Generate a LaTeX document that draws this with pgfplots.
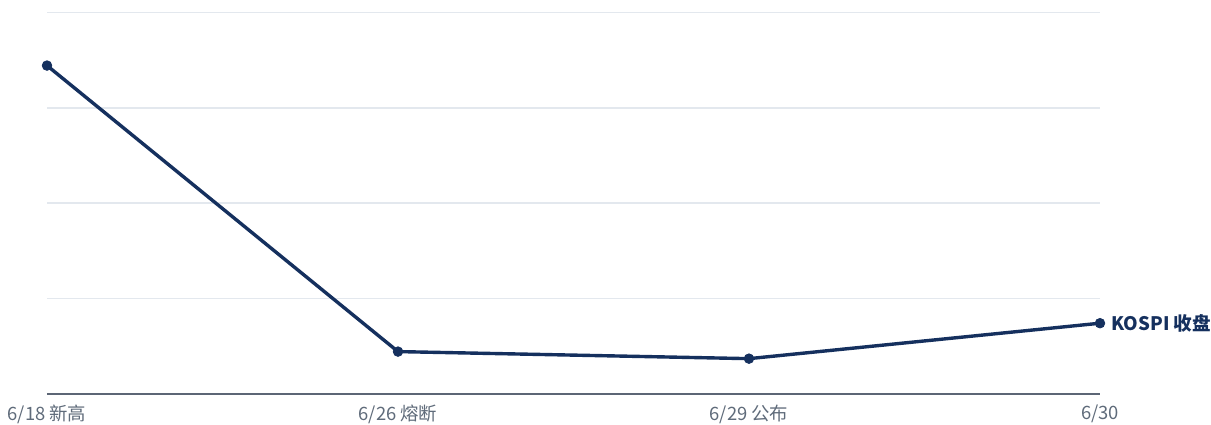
\documentclass[border=0pt]{standalone}
\usepackage{pgfplots}
\pgfplotsset{compat=1.18}
\usepackage{fontspec}
\setmainfont{Noto Sans CJK SC}
\definecolor{navy}{HTML}{15305E}
\definecolor{gridc}{HTML}{E3E8EE}
\definecolor{axisc}{HTML}{5C6675}
\definecolor{tickc}{HTML}{5F6B7A}
\begin{document}
\begin{tikzpicture}
\useasboundingbox (-23.5pt,-15.3pt) rectangle (582pt,196.8pt);
\begin{axis}[
  scale only axis, width=526.5pt, height=190.5pt,
  xmin=0, xmax=3, ymin=0, ymax=4,
  axis line style={draw=none},
  xtick={0,1,2,3},
  xticklabels={6/18 新高, 6/26 熔断, 6/29 公布, 6/30},
  ytick={1,2,3,4}, yticklabels={},
  major tick length=0pt,
  ymajorgrids, grid style={gridc, line width=0.8pt},
  xticklabel style={font=\fontsize{9.2pt}{10pt}\selectfont, text=tickc, anchor=north, yshift=-2.3pt},
  clip=false,
]
\draw[axisc, line width=1pt] (rel axis cs:0,0) -- (rel axis cs:1,0);
\addplot[navy, line width=1.7pt, mark=*, mark size=2.4pt, mark options={fill=navy, draw=navy, line width=0.4pt, solid}]
  coordinates {(0,3.444) (1,0.441) (2,0.367) (3,0.739)};
\node[anchor=west, inner sep=0pt, xshift=5.5pt, text=navy, font=\bfseries\fontsize{9.3pt}{10pt}\selectfont] at (axis cs:3,0.739) {KOSPI 收盘};
\end{axis}
\end{tikzpicture}
\end{document}
